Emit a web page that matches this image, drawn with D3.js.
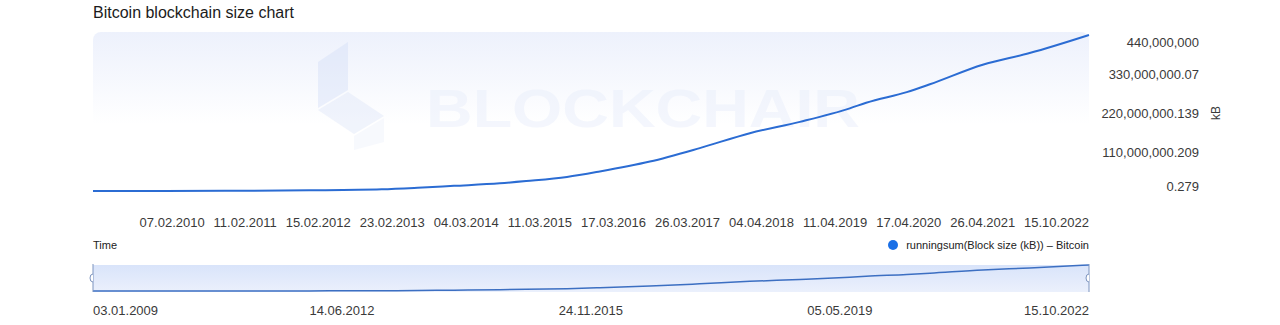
<!DOCTYPE html>
<html>
<head>
    <meta charset="utf-8">
    <title>Bitcoin blockchain size chart</title>
    <style>
        body { margin: 0; background: #fff; }
        text { font-family: Helvetica, Arial, "Liberation Sans", sans-serif; }
    </style>
</head>
<body>
<script src="https://cdnjs.cloudflare.com/ajax/libs/d3/7.8.5/d3.min.js"></script>
<script>
    var width = 1280,
        height = 325;

    // running sum of block size (kB)
    var dates = ['03.01.2009', '01.01.2010', '01.01.2011', '01.01.2012', '01.01.2013', '01.07.2013',
        '01.01.2014', '21.08.2014', '01.01.2015', '26.07.2015', '08.01.2016', '17.09.2016',
        '27.05.2017', '04.02.2018', '15.10.2018', '24.06.2019', '15.09.2019', '07.04.2020',
        '02.08.2020', '26.04.2021', '19.12.2021', '15.10.2022'];
    var sizes = [0.279, 15000, 600000, 2000000, 4800000, 9000000,
        14500000, 21700000, 28000000, 39500000, 55000000, 83000000,
        121000000, 163000000, 195000000, 233000000, 249000000, 279000000,
        301000000, 356000000, 389000000, 440000000];

    var xTickLabels = ['07.02.2010', '11.02.2011', '15.02.2012', '23.02.2013', '04.03.2014', '11.03.2015',
        '17.03.2016', '26.03.2017', '04.04.2018', '11.04.2019', '17.04.2020', '26.04.2021', '15.10.2022'];
    var yTickValues = [0.279, 110000000.209, 220000000.139, 330000000.07, 440000000];
    var yTickLabels = ['0.279', '110,000,000.209', '220,000,000.139', '330,000,000.07', '440,000,000'];
    var navTickLabels = ['03.01.2009', '14.06.2012', '24.11.2015', '05.05.2019', '15.10.2022'];

    var parse = d3.timeParse('%d.%m.%Y');
    var data = dates.map(function (d, i) {
        return {date: parse(d), value: sizes[i]};
    });

    var left = 93, right = 1089;
    var x = d3.scaleTime()
        .domain(d3.extent(data, function (d) { return d.date; }))
        .range([left, right]);
    var y = d3.scaleLinear()
        .domain([0, 440000000])
        .range([191, 35]);
    var yNav = d3.scaleLinear()
        .domain([0, 440000000])
        .range([291, 265]);

    var svg = d3.select('body').append('svg')
        .attr('width', width)
        .attr('height', height);

    var defs = svg.append('defs');
    var bg = defs.append('linearGradient').attr('id', 'bg')
        .attr('x1', 0).attr('y1', 0).attr('x2', 0).attr('y2', 1);
    bg.append('stop').attr('offset', '0%').attr('stop-color', '#edf1fc');
    bg.append('stop').attr('offset', '55%').attr('stop-color', '#ffffff');
    var nav = defs.append('linearGradient').attr('id', 'nav')
        .attr('x1', 0).attr('y1', 0).attr('x2', 0).attr('y2', 1);
    nav.append('stop').attr('offset', '0%').attr('stop-color', '#d9e4fa');
    nav.append('stop').attr('offset', '100%').attr('stop-color', '#ebf0fc');

    // title
    svg.append('text')
        .attr('x', left).attr('y', 18)
        .attr('font-size', 16)
        .attr('fill', '#1b1b1b')
        .text('Bitcoin blockchain size chart');

    // plot background
    svg.append('rect')
        .attr('x', left).attr('y', 32)
        .attr('width', right - left).attr('height', 168)
        .attr('rx', 8)
        .attr('fill', 'url(#bg)');

    // watermark
    var mark = svg.append('g').attr('opacity', 0.42);
    mark.append('polygon')
        .attr('points', '318,62 348,42 348,90 318,108')
        .attr('fill', '#d3def8');
    mark.append('polygon')
        .attr('points', '318,110 348,92 384,116 354,134')
        .attr('fill', '#dde5f9');
    mark.append('polygon')
        .attr('points', '354,136 384,118 384,142 354,150')
        .attr('fill', '#eef2fc');
    mark.append('text')
        .attr('x', 426).attr('y', 127)
        .attr('font-size', 54)
        .attr('font-weight', 'bold')
        .attr('textLength', 434)
        .attr('lengthAdjust', 'spacingAndGlyphs')
        .attr('fill', '#e6ecfb')
        .text('BLOCKCHAIR');

    // main line
    var line = d3.line()
        .x(function (d) { return x(d.date); })
        .y(function (d) { return y(d.value); })
        .curve(d3.curveMonotoneX);
    svg.append('path')
        .datum(data)
        .attr('d', line)
        .attr('fill', 'none')
        .attr('stroke', '#2b6cd3')
        .attr('stroke-width', 2);

    // x axis labels
    svg.append('g').selectAll('text')
        .data(xTickLabels)
        .enter().append('text')
        .attr('x', function (d) { return x(parse(d)); })
        .attr('y', 227)
        .attr('font-size', 13)
        .attr('fill', '#3a3a3a')
        .attr('text-anchor', function (d, i) { return i === xTickLabels.length - 1 ? 'end' : 'middle'; })
        .text(function (d) { return d; });

    // y axis labels (clamped inside the plot like the original)
    svg.append('g').selectAll('text')
        .data(yTickValues)
        .enter().append('text')
        .attr('x', 1199)
        .attr('y', function (d) { return Math.max(42, Math.min(186, y(d))) + 4.5; })
        .attr('font-size', 13)
        .attr('fill', '#3a3a3a')
        .attr('text-anchor', 'end')
        .text(function (d, i) { return yTickLabels[i]; });

    svg.append('text')
        .attr('transform', 'translate(1220,113) rotate(-90)')
        .attr('text-anchor', 'middle')
        .attr('font-size', 12)
        .attr('fill', '#3a3a3a')
        .text('kB');

    // x axis title and legend
    svg.append('text')
        .attr('x', left).attr('y', 249)
        .attr('font-size', 11)
        .attr('fill', '#222')
        .text('Time');
    svg.append('circle')
        .attr('cx', 893).attr('cy', 245).attr('r', 5)
        .attr('fill', '#1a6fe6');
    svg.append('text')
        .attr('x', right).attr('y', 249)
        .attr('font-size', 11)
        .attr('text-anchor', 'end')
        .attr('fill', '#222')
        .text('runningsum(Block size (kB)) \u2013 Bitcoin');

    // navigator
    svg.append('rect')
        .attr('x', left).attr('y', 265)
        .attr('width', right - left).attr('height', 27)
        .attr('fill', 'url(#nav)');
    var navLine = d3.line()
        .x(function (d) { return x(d.date); })
        .y(function (d) { return yNav(d.value); })
        .curve(d3.curveMonotoneX);
    svg.append('path')
        .datum(data)
        .attr('d', navLine)
        .attr('fill', 'none')
        .attr('stroke', '#3c6fc2')
        .attr('stroke-width', 1.5);

    [left, right].forEach(function (hx) {
        svg.append('line')
            .attr('x1', hx).attr('x2', hx)
            .attr('y1', 264).attr('y2', 292)
            .attr('stroke', '#7d94bf')
            .attr('stroke-width', 1);
        svg.append('path')
            .attr('d', 'M' + hx + ',274 q-3,0 -3,4 q0,4 3,4')
            .attr('fill', '#fff')
            .attr('stroke', '#7d94bf')
            .attr('stroke-width', 1);
    });

    svg.append('g').selectAll('text')
        .data(navTickLabels)
        .enter().append('text')
        .attr('x', function (d) { return x(parse(d)); })
        .attr('y', 315)
        .attr('font-size', 13)
        .attr('fill', '#3a3a3a')
        .attr('text-anchor', function (d, i) {
            if (i === 0) return 'start';
            if (i === navTickLabels.length - 1) return 'end';
            return 'middle';
        })
        .text(function (d) { return d; });
</script>
</body>
</html>
